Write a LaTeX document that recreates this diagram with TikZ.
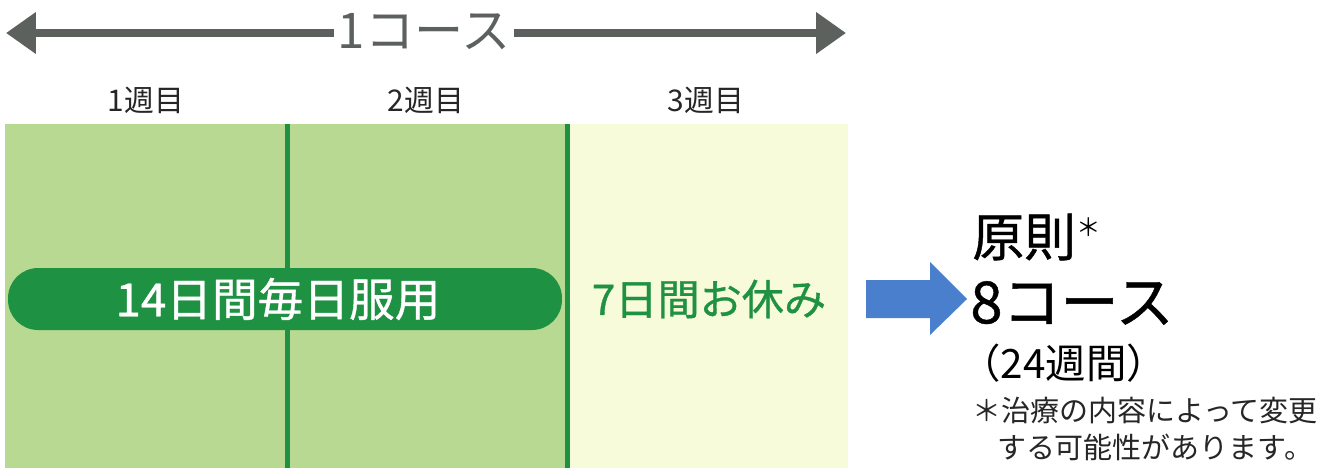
\documentclass[tikz,border=0pt]{standalone}
\usepackage{fontspec}
\usepackage{tikz}
\usetikzlibrary{arrows.meta}
\newfontfamily\jp{Noto Sans CJK JP}
\newfontfamily\jpmed[FakeBold=0.8]{Noto Sans CJK JP}
\definecolor{leafgreen}{RGB}{183,217,145}
\definecolor{paleyellow}{RGB}{248,251,218}
\definecolor{deepgreen}{RGB}{30,146,66}
\definecolor{arrowgray}{RGB}{92,97,94}
\definecolor{arrowblue}{RGB}{74,127,205}
\tikzset{>=stealth,
  weeklabel/.style={font=\jp\fontsize{17pt}{19pt}\selectfont, text=black!85},
  coursearrow/.style={line width=0.16cm, arrowgray, -{Triangle[length=0.6cm,width=0.8cm]}}}

\begin{document}
\begin{tikzpicture}[x=0.02cm,y=-0.02cm]
      \useasboundingbox (0,0) rectangle (1337,468);
      % weeks
        \fill[leafgreen] (5,124) rectangle (567,468);
        \fill[paleyellow] (567,124) rectangle (848,468);
        \draw[deepgreen, line width=0.1cm] (287,124) -- (287,468);
        \draw[deepgreen, line width=0.1cm] (567,124) -- (567,468);
        \node[weeklabel] (w1) at (146,100) {1週目};
        \node[weeklabel] (w2) at (426,100) {2週目};
        \node[weeklabel] (w3) at (706,100) {3週目};
      % one course
        \node[font=\jp\fontsize{28pt}{30pt}\selectfont, text=arrowgray, inner sep=2pt] (course) at (424,32) {1コース};
        \coordinate (cl) at (6,33);
        \coordinate (cr) at (846,33);
        \draw[coursearrow] (course.west |- cl) -- (cl);
        \draw[coursearrow] (course.east |- cr) -- (cr);
      % dosing and rest
        \node[fill=deepgreen, rounded corners=0.6cm, minimum width=11.08cm, minimum height=1.24cm, inner sep=0pt] (pill) at (285,299) {};
        \node[font=\jpmed\fontsize{26pt}{28pt}\selectfont, text=white] (dose) at (278,299) {14日間毎日服用};
        \node[font=\jpmed\fontsize{24pt}{27pt}\selectfont, text=deepgreen] (rest) at (709,299) {7日間お休み};
      % result
        \coordinate (go) at (866,299);
        \fill[arrowblue] (go) ++(0,-19) -- ++(64,0) -- ++(0,-18) -- ++(37,37) -- ++(-37,36) -- ++(0,-17) -- ++(-64,0) -- cycle;
        \node[anchor=west, font=\jpmed\fontsize{29.5pt}{32pt}\selectfont, inner sep=0pt] (rule) at (972,237) {原則\raisebox{0.7ex}{\jp\fontsize{14pt}{14pt}\selectfont ＊}};
        \node[anchor=west, font=\jpmed\fontsize{33pt}{35pt}\selectfont, inner sep=0pt] (eight) at (970,303) {8コース};
        \node[anchor=west, font=\jp\fontsize{23pt}{25pt}\selectfont, inner sep=0pt] (weeks) at (960,363) {（24週間）};
        \node[anchor=north west, font=\jp\fontsize{16.5pt}{21pt}\selectfont, align=left, inner sep=0pt, text=black!85] (note) at (972,397)
          {＊治療の内容によって変更\\\hspace*{0.85em}する可能性があります。};
       \end{tikzpicture}
\end{document}
